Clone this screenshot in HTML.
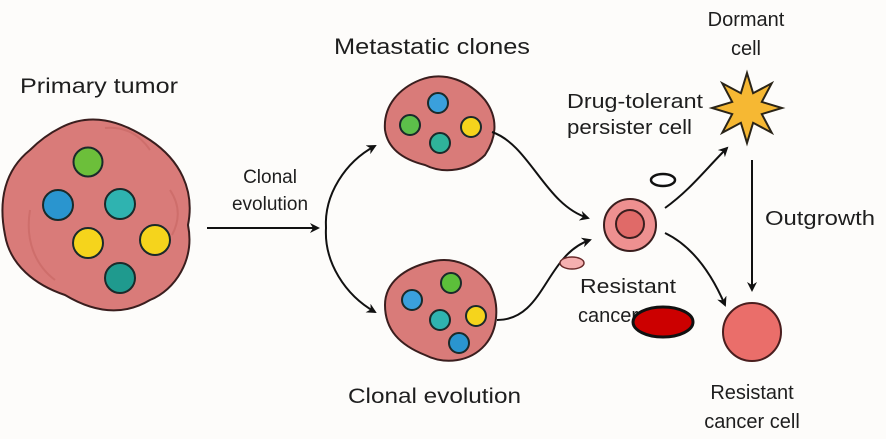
<!DOCTYPE html>
<html><head><meta charset="utf-8"><style>
html,body{margin:0;padding:0;background:#fdfcfa;}
svg{display:block;}
text{font-family:"Liberation Sans",sans-serif;fill:#1e1e1e;}
</style></head><body>
<svg width="886" height="439" viewBox="0 0 886 439" xmlns="http://www.w3.org/2000/svg">
<defs>
<marker id="ah" markerWidth="10" markerHeight="10" refX="8" refY="5" orient="auto" markerUnits="userSpaceOnUse" viewBox="0 0 10 10">
<path d="M0,0 L10,5 L0,10 L3,5 Z" fill="#111"/>
</marker>
</defs>
<rect width="886" height="439" fill="#fdfcfa"/>

<!-- Labels -->
<text x="20" y="93" font-size="21" textLength="158" lengthAdjust="spacingAndGlyphs">Primary tumor</text>
<text x="334" y="54" font-size="22" textLength="196" lengthAdjust="spacingAndGlyphs">Metastatic clones</text>
<text x="348" y="403" font-size="21" textLength="173" lengthAdjust="spacingAndGlyphs">Clonal evolution</text>
<text x="270" y="183" font-size="19" text-anchor="middle">Clonal</text>
<text x="270" y="210" font-size="19" text-anchor="middle">evolution</text>
<text x="567" y="108" font-size="20" textLength="136" lengthAdjust="spacingAndGlyphs">Drug-tolerant</text>
<text x="567" y="134" font-size="20" textLength="125" lengthAdjust="spacingAndGlyphs">persister cell</text>
<text x="746" y="26" font-size="20" text-anchor="middle">Dormant</text>
<text x="746" y="55" font-size="20" text-anchor="middle">cell</text>
<text x="765" y="225" font-size="20" textLength="110" lengthAdjust="spacingAndGlyphs">Outgrowth</text>
<text x="580" y="293" font-size="20" textLength="96" lengthAdjust="spacingAndGlyphs">Resistant</text>
<text x="578" y="322" font-size="20">cancer</text>
<text x="752" y="399" font-size="20" text-anchor="middle">Resistant</text>
<text x="752" y="428" font-size="20" text-anchor="middle">cancer cell</text>

<!-- Primary tumor -->
<path d="M60,128 C90,112 120,120 150,140 C180,160 195,190 188,225 C195,260 175,290 150,300 C120,318 90,310 65,295 C35,285 10,265 5,235 C-2,200 5,170 30,150 C40,140 50,133 60,128 Z" fill="#d97b79" stroke="#3a1e1e" stroke-width="2"/>
<path d="M105,128 C125,126 140,135 150,150 M170,190 C180,205 180,220 172,235 M30,210 C25,240 35,265 55,280" fill="none" stroke="#c76563" stroke-width="2" opacity="0.6"/>
<g stroke="#1a2a2a" stroke-width="2">
<circle cx="88" cy="162" r="14.5" fill="#6cbf3a"/>
<circle cx="58" cy="205" r="15" fill="#2a95cf"/>
<circle cx="120" cy="204" r="15" fill="#2fb3b0"/>
<circle cx="88" cy="243" r="15" fill="#f5d41c"/>
<circle cx="155" cy="240" r="15" fill="#f5d41c"/>
<circle cx="120" cy="278" r="15" fill="#1f9a8e"/>
</g>

<!-- Arrows left -->
<line x1="207" y1="228" x2="318" y2="228" stroke="#111" stroke-width="2" marker-end="url(#ah)"/>
<path d="M326,228 C324,195 345,162 375,146" fill="none" stroke="#111" stroke-width="2" marker-end="url(#ah)"/>
<path d="M326,228 C324,262 345,295 375,312" fill="none" stroke="#111" stroke-width="2" marker-end="url(#ah)"/>

<!-- Top cluster -->
<path d="M420,80 C445,70 470,82 485,100 C500,120 495,140 485,155 C470,170 445,175 425,165 C405,160 388,150 385,130 C383,105 400,88 420,80 Z" fill="#d97b79" stroke="#3a1e1e" stroke-width="2"/>
<g stroke="#1a2a2a" stroke-width="2">
<circle cx="438" cy="103" r="10" fill="#3aa0dc"/>
<circle cx="410" cy="125" r="10" fill="#5cbf4a"/>
<circle cx="471" cy="127" r="10" fill="#f5d41c"/>
<circle cx="440" cy="143" r="10" fill="#2fb39a"/>
</g>
<!-- Bottom cluster -->
<path d="M430,262 C455,255 478,268 490,285 C500,305 498,330 485,345 C470,362 445,365 425,355 C400,345 385,330 385,305 C385,282 405,268 430,262 Z" fill="#d97b79" stroke="#3a1e1e" stroke-width="2"/>
<g stroke="#1a2a2a" stroke-width="2">
<circle cx="451" cy="283" r="10" fill="#5cbf3a"/>
<circle cx="412" cy="300" r="10" fill="#3aa0dc"/>
<circle cx="440" cy="320" r="10" fill="#2fb3b0"/>
<circle cx="476" cy="316" r="10" fill="#f5d41c"/>
<circle cx="459" cy="343" r="10" fill="#2a95cf"/>
</g>

<!-- Arrows to persister -->
<path d="M492,132 C530,145 545,205 588,218" fill="none" stroke="#111" stroke-width="2" marker-end="url(#ah)"/>
<path d="M497,320 C545,320 545,255 590,240" fill="none" stroke="#111" stroke-width="2" marker-end="url(#ah)"/>

<!-- Persister cell -->
<circle cx="630" cy="225" r="26" fill="#ee9090" stroke="#3a1e1e" stroke-width="2"/>
<circle cx="630" cy="224" r="14" fill="#e06a68" stroke="#3a1e1e" stroke-width="2"/>

<ellipse cx="663" cy="180" rx="12" ry="6" fill="#fff" stroke="#111" stroke-width="2.5"/>
<ellipse cx="572" cy="263" rx="12" ry="6" fill="#f5b0b0" stroke="#6a2a2a" stroke-width="1.5"/>
<ellipse cx="663" cy="322" rx="30" ry="15" fill="#cc0000" stroke="#111" stroke-width="3"/>

<!-- Arrows from persister -->
<path d="M665,208 C690,190 705,170 727,148" fill="none" stroke="#111" stroke-width="2" marker-end="url(#ah)"/>
<path d="M665,233 C690,245 710,270 725,305" fill="none" stroke="#111" stroke-width="2" marker-end="url(#ah)"/>

<!-- Star -->
<polygon points="747,73 753.1,93.2 771.7,83.3 761.8,101.9 782,108 761.8,114.1 771.7,132.7 753.1,122.8 747,143 740.9,122.8 722.3,132.7 732.2,114.1 712,108 732.2,101.9 722.3,83.3 740.9,93.2" fill="#f6b833" stroke="#2a2418" stroke-width="2" stroke-linejoin="miter"/>

<!-- Outgrowth arrow -->
<line x1="752" y1="160" x2="752" y2="290" stroke="#111" stroke-width="2" marker-end="url(#ah)"/>

<!-- Resistant cell -->
<circle cx="752" cy="332" r="29" fill="#ea6e6a" stroke="#4a1e1e" stroke-width="2"/>
</svg>
</body></html>
